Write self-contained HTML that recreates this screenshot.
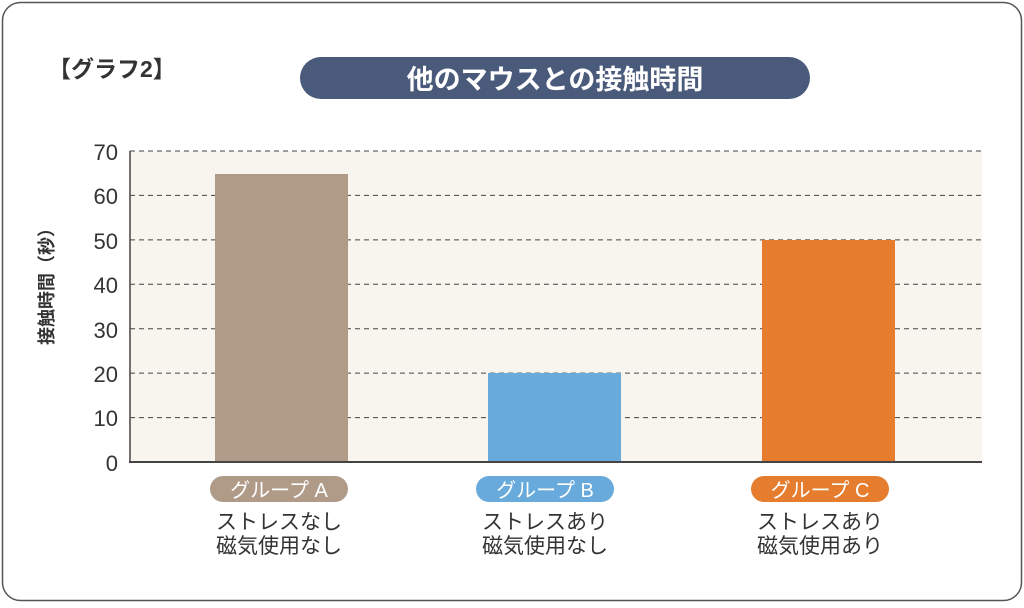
<!DOCTYPE html>
<html><head><meta charset="utf-8"><style>
body{margin:0;width:1024px;height:603px;background:#fff;font-family:"Liberation Sans","Noto Sans CJK JP",sans-serif;}
</style></head><body>
<svg width="1024" height="603" xmlns="http://www.w3.org/2000/svg" style="font-family:'Liberation Sans','Noto Sans CJK JP',sans-serif">
<rect x="2.5" y="2.5" width="1019" height="598" rx="18" fill="#fff" stroke="#555" stroke-width="1.5"/>
<text x="48" y="77" font-size="23" font-weight="bold" fill="#333">【グラフ2】</text>
<rect x="300" y="57" width="510" height="42" rx="21" fill="#4a5a7a"/>
<text x="555" y="89" font-size="27" font-weight="bold" fill="#fff" text-anchor="middle">他のマウスとの接触時間</text>
<rect x="130" y="151" width="852" height="311" fill="#f8f4ee"/>
<g stroke="#444" stroke-width="1" stroke-dasharray="5,4">
<line x1="130" y1="151" x2="982" y2="151"/><line x1="130" y1="195.4" x2="982" y2="195.4"/>
<line x1="130" y1="239.9" x2="982" y2="239.9"/><line x1="130" y1="284.3" x2="982" y2="284.3"/>
<line x1="130" y1="328.7" x2="982" y2="328.7"/><line x1="130" y1="373.1" x2="982" y2="373.1"/>
<line x1="130" y1="417.6" x2="982" y2="417.6"/>
</g>
<rect x="215" y="174" width="133" height="288" fill="#b09a88"/>
<rect x="488" y="373" width="133" height="89" fill="#68aadb"/>
<rect x="762" y="240" width="133" height="222" fill="#e67d2e"/>
<line x1="130" y1="151" x2="130" y2="462" stroke="#444" stroke-width="1.5"/>
<line x1="129" y1="462" x2="982" y2="462" stroke="#444" stroke-width="2"/>
<g font-size="22" fill="#333" text-anchor="end">
<text x="118" y="160">70</text><text x="118" y="204">60</text><text x="118" y="249">50</text>
<text x="118" y="293">40</text><text x="118" y="338">30</text><text x="118" y="382">20</text>
<text x="118" y="426">10</text><text x="118" y="471">0</text>
</g>
<text transform="translate(53,282) rotate(-90)" font-size="18" font-weight="bold" fill="#333" text-anchor="middle">接触時間（秒）</text>
<rect x="210" y="476" width="138" height="26" rx="13" fill="#b09a88"/>
<rect x="476" y="476" width="138" height="26" rx="13" fill="#68aadb"/>
<rect x="751" y="476" width="138" height="26" rx="13" fill="#e67d2e"/>
<g font-size="20" fill="#fff" text-anchor="middle">
<text x="279" y="497">グループ A</text><text x="545" y="497">グループ B</text><text x="820" y="497">グループ C</text>
</g>
<g font-size="21" fill="#333" text-anchor="middle">
<text x="279" y="529">ストレスなし</text><text x="279" y="553">磁気使用なし</text>
<text x="545" y="529">ストレスあり</text><text x="545" y="553">磁気使用なし</text>
<text x="820" y="529">ストレスあり</text><text x="820" y="553">磁気使用あり</text>
</g>
</svg>
</body></html>
